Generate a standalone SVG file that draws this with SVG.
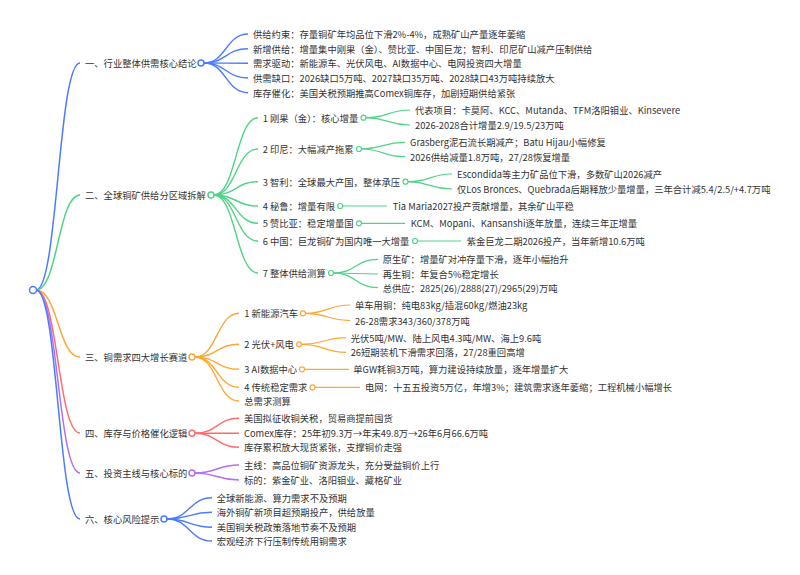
<svg xmlns="http://www.w3.org/2000/svg" width="800" height="575" viewBox="0 0 800 575">
<style>
text{font-family:"Noto Sans CJK SC","Noto Sans",sans-serif;font-size:9.3px;fill:#333;dominant-baseline:central}
path{fill:none}
.b{stroke:#4b7bff}.g{stroke:#4fd486}.o{stroke:#ffa733}.r{stroke:#ff6b6b}.p{stroke:#b46ef0}
.l1{stroke-width:1.5}.l2{stroke-width:1.4}.l3{stroke-width:1.2}
circle{fill:#fff}
.c0{stroke-width:1.5}.c1{stroke-width:1.5}.c2{stroke-width:1.2}
</style>
<rect width="800" height="575" fill="#fff"/>
<g id="connectors">
<path class="b l1" d="M36,290 C58,290 58,63 80,63"/>
<path class="g l1" d="M36,290 C58,290 58,195 80,195"/>
<path class="o l1" d="M36,290 C58,290 58,357 80,357"/>
<path class="r l1" d="M36,290 C58,290 58,433 80,433"/>
<path class="p l1" d="M36,290 C58,290 58,473 80,473"/>
<path class="b l1" d="M36,290 C58,290 58,519 80,519"/>
<path class="b l2" d="M204,63 C226,63 226,34 248,34"/>
<path class="b l2" d="M204,63 C226,63 226,48.7 248,48.7"/>
<path class="b l2" d="M204,63 C226,63 226,63.3 248,63.3"/>
<path class="b l2" d="M204,63 C226,63 226,78 248,78"/>
<path class="b l2" d="M204,63 C226,63 226,92.7 248,92.7"/>
<path class="g l2" d="M214,195 C236,195 236,117.7 258,117.7"/>
<path class="g l2" d="M214,195 C236,195 236,149 258,149"/>
<path class="g l2" d="M214,195 C236,195 236,181.7 258,181.7"/>
<path class="g l2" d="M214,195 C236,195 236,206 258,206"/>
<path class="g l2" d="M214,195 C236,195 236,223.3 258,223.3"/>
<path class="g l2" d="M214,195 C236,195 236,241 258,241"/>
<path class="g l2" d="M214,195 C236,195 236,273 258,273"/>
<path class="g l3" d="M366,117.7 C388,117.7 388,110 410,110"/>
<path class="g l3" d="M366,117.7 C388,117.7 388,125 410,125"/>
<path class="g l3" d="M361.5,149 C383,149 383,142.3 405,142.3"/>
<path class="g l3" d="M361.5,149 C383,149 383,156.7 405,156.7"/>
<path class="g l3" d="M408,181.7 C430,181.7 430,174 452,174"/>
<path class="g l3" d="M408,181.7 C430,181.7 430,189 452,189"/>
<path class="g l3" d="M342.7,206 L387,206"/>
<path class="g l3" d="M361.5,223.3 L405,223.3"/>
<path class="g l3" d="M417.5,241 L461,241"/>
<path class="g l3" d="M333.5,273 C356,273 356,259.3 378,259.3"/>
<path class="g l3" d="M333.5,273 C356,273 356,274 378,274"/>
<path class="g l3" d="M333.5,273 C356,273 356,287.7 378,287.7"/>
<path class="o l2" d="M195,357 C217,357 217,313.3 239,313.3"/>
<path class="o l2" d="M195,357 C217,357 217,344.3 239,344.3"/>
<path class="o l2" d="M195,357 C217,357 217,369.3 239,369.3"/>
<path class="o l2" d="M195,357 C217,357 217,387.3 239,387.3"/>
<path class="o l2" d="M195,357 C217,357 217,401 239,401"/>
<path class="o l3" d="M305.5,313.3 C328,313.3 328,305 350,305"/>
<path class="o l3" d="M305.5,313.3 C328,313.3 328,320.7 350,320.7"/>
<path class="o l3" d="M301.5,344.3 C324,344.3 324,337.7 346,337.7"/>
<path class="o l3" d="M301.5,344.3 C324,344.3 324,352.3 346,352.3"/>
<path class="o l3" d="M304.5,369.3 L349,369.3"/>
<path class="o l3" d="M315,387.3 L360,387.3"/>
<path class="r l2" d="M195,433.3 C217,433.3 217,418.3 239,418.3"/>
<path class="r l2" d="M195,433.3 C217,433.3 217,433.3 239,433.3"/>
<path class="r l2" d="M195,433.3 C217,433.3 217,447.3 239,447.3"/>
<path class="p l2" d="M195,473 C217,473 217,465 239,465"/>
<path class="p l2" d="M195,473 C217,473 217,480 239,480"/>
<path class="b l2" d="M167,519 C189.5,519 189.5,497.7 212,497.7"/>
<path class="b l2" d="M167,519 C189.5,519 189.5,512.3 212,512.3"/>
<path class="b l2" d="M167,519 C189.5,519 189.5,527.3 212,527.3"/>
<path class="b l2" d="M167,519 C189.5,519 189.5,541 212,541"/>
</g>
<g id="root"><circle class="b c0" cx="33" cy="290" r="3.5"/></g>
<g id="n1">
<text x="85" y="63">一、行业整体供需核心结论</text>
<circle class="b c1" cx="201" cy="63" r="3"/>
<text x="253" y="34">供给约束：存量铜矿年均品位下滑2%-4%，成熟矿山产量逐年萎缩</text>
<text x="253" y="48.7">新增供给：增量集中刚果（金）、赞比亚、中国巨龙；智利、印尼矿山减产压制供给</text>
<text x="253" y="63.3">需求驱动：新能源车、光伏风电、AI数据中心、电网投资四大增量</text>
<text x="253" y="78">供需缺口：2026缺口5万吨、2027缺口35万吨、2028缺口43万吨持续放大</text>
<text x="253" y="92.7">库存催化：美国关税预期推高Comex铜库存，加剧短期供给紧张</text>
</g>
<g id="n2">
<text x="85" y="195">二、全球铜矿供给分区域拆解</text>
<circle class="g c1" cx="211" cy="195" r="3"/>
</g>
<g id="n2-1">
<text x="262.7" y="117.7">1 刚果（金）：核心增量</text>
<circle class="g c2" cx="363.5" cy="117.7" r="2.5"/>
<text x="415" y="110">代表项目：卡莫阿、KCC、Mutanda、TFM洛阳钼业、Kinsevere</text>
<text x="415" y="125">2026-2028合计增量2.9/19.5/23万吨</text>
</g>
<g id="n2-2">
<text x="262.7" y="149">2 印尼：大幅减产拖累</text>
<circle class="g c2" cx="359" cy="149" r="2.5"/>
<text x="410" y="142.3">Grasberg泥石流长期减产；Batu Hijau小幅修复</text>
<text x="410" y="156.7">2026供给减量1.8万吨，27/28恢复增量</text>
</g>
<g id="n2-3">
<text x="262.7" y="181.7">3 智利：全球最大产国，整体承压</text>
<circle class="g c2" cx="405.5" cy="181.7" r="2.5"/>
<text x="457" y="174">Escondida等主力矿品位下滑，多数矿山2026减产</text>
<text x="457" y="189">仅Los Bronces、Quebrada后期释放少量增量，三年合计减5.4/2.5/+4.7万吨</text>
</g>
<g id="n2-4">
<text x="262.7" y="206">4 秘鲁：增量有限</text>
<circle class="g c2" cx="340.2" cy="206" r="2.5"/>
<text x="392.7" y="206">Tia Maria2027投产贡献增量，其余矿山平稳</text>
</g>
<g id="n2-5">
<text x="262.7" y="223.3">5 赞比亚：稳定增量国</text>
<circle class="g c2" cx="359" cy="223.3" r="2.5"/>
<text x="410.7" y="223.3">KCM、Mopani、Kansanshi逐年放量，连续三年正增量</text>
</g>
<g id="n2-6">
<text x="262.7" y="241">6 中国：巨龙铜矿为国内唯一大增量</text>
<circle class="g c2" cx="415" cy="241" r="2.5"/>
<text x="466.7" y="241">紫金巨龙二期2026投产，当年新增10.6万吨</text>
</g>
<g id="n2-7">
<text x="262.7" y="273">7 整体供给测算</text>
<circle class="g c2" cx="331" cy="273" r="2.5"/>
<text x="382.7" y="259.3">原生矿：增量矿对冲存量下滑，逐年小幅抬升</text>
<text x="382.7" y="274">再生铜：年复合5%稳定增长</text>
<text x="382.7" y="287.7">总供应：2825(26)/2888(27)/2965(29)万吨</text>
</g>
<g id="n3">
<text x="85" y="357">三、铜需求四大增长赛道</text>
<circle class="o c1" cx="192" cy="357" r="3"/>
</g>
<g id="n3-1">
<text x="244.3" y="313.3">1 新能源汽车</text>
<circle class="o c2" cx="303" cy="313.3" r="2.5"/>
<text x="355" y="305">单车用铜：纯电83kg/插混60kg/燃油23kg</text>
<text x="355" y="320.7">26-28需求343/360/378万吨</text>
</g>
<g id="n3-2">
<text x="244.3" y="344.3">2 光伏+风电</text>
<circle class="o c2" cx="299" cy="344.3" r="2.5"/>
<text x="350.7" y="337.7">光伏5吨/MW、陆上风电4.3吨/MW、海上9.6吨</text>
<text x="350.7" y="352.3">26短期装机下滑需求回落，27/28重回高增</text>
</g>
<g id="n3-3">
<text x="244.3" y="369.3">3 AI数据中心</text>
<circle class="o c2" cx="302" cy="369.3" r="2.5"/>
<text x="353.3" y="369.3">单GW耗铜3万吨，算力建设持续放量，逐年增量扩大</text>
</g>
<g id="n3-4">
<text x="244.3" y="387.3">4 传统稳定需求</text>
<circle class="o c2" cx="312.5" cy="387.3" r="2.5"/>
<text x="365" y="387.3">电网：十五五投资5万亿，年增3%；建筑需求逐年萎缩；工程机械小幅增长</text>
</g>
<g id="n3-5"><text x="244.3" y="401">总需求测算</text></g>
<g id="n4">
<text x="85" y="433.3">四、库存与价格催化逻辑</text>
<circle class="r c1" cx="192" cy="433.3" r="3"/>
<text x="244" y="418.3">美国拟征收铜关税，贸易商提前囤货</text>
<text x="244" y="433.3">Comex库存：25年初9.3万→年末49.8万→26年6月66.6万吨</text>
<text x="244" y="447.3">库存累积放大现货紧张，支撑铜价走强</text>
</g>
<g id="n5">
<text x="85" y="473">五、投资主线与核心标的</text>
<circle class="p c1" cx="192" cy="473" r="3"/>
<text x="244" y="465">主线：高品位铜矿资源龙头，充分受益铜价上行</text>
<text x="244" y="480">标的：紫金矿业、洛阳钼业、藏格矿业</text>
</g>
<g id="n6">
<text x="85" y="519">六、核心风险提示</text>
<circle class="b c1" cx="164" cy="519" r="3"/>
<text x="216.7" y="497.7">全球新能源、算力需求不及预期</text>
<text x="216.7" y="512.3">海外铜矿新项目超预期投产，供给放量</text>
<text x="216.7" y="527.3">美国铜关税政策落地节奏不及预期</text>
<text x="216.7" y="541">宏观经济下行压制传统用铜需求</text>
</g>
</svg>
